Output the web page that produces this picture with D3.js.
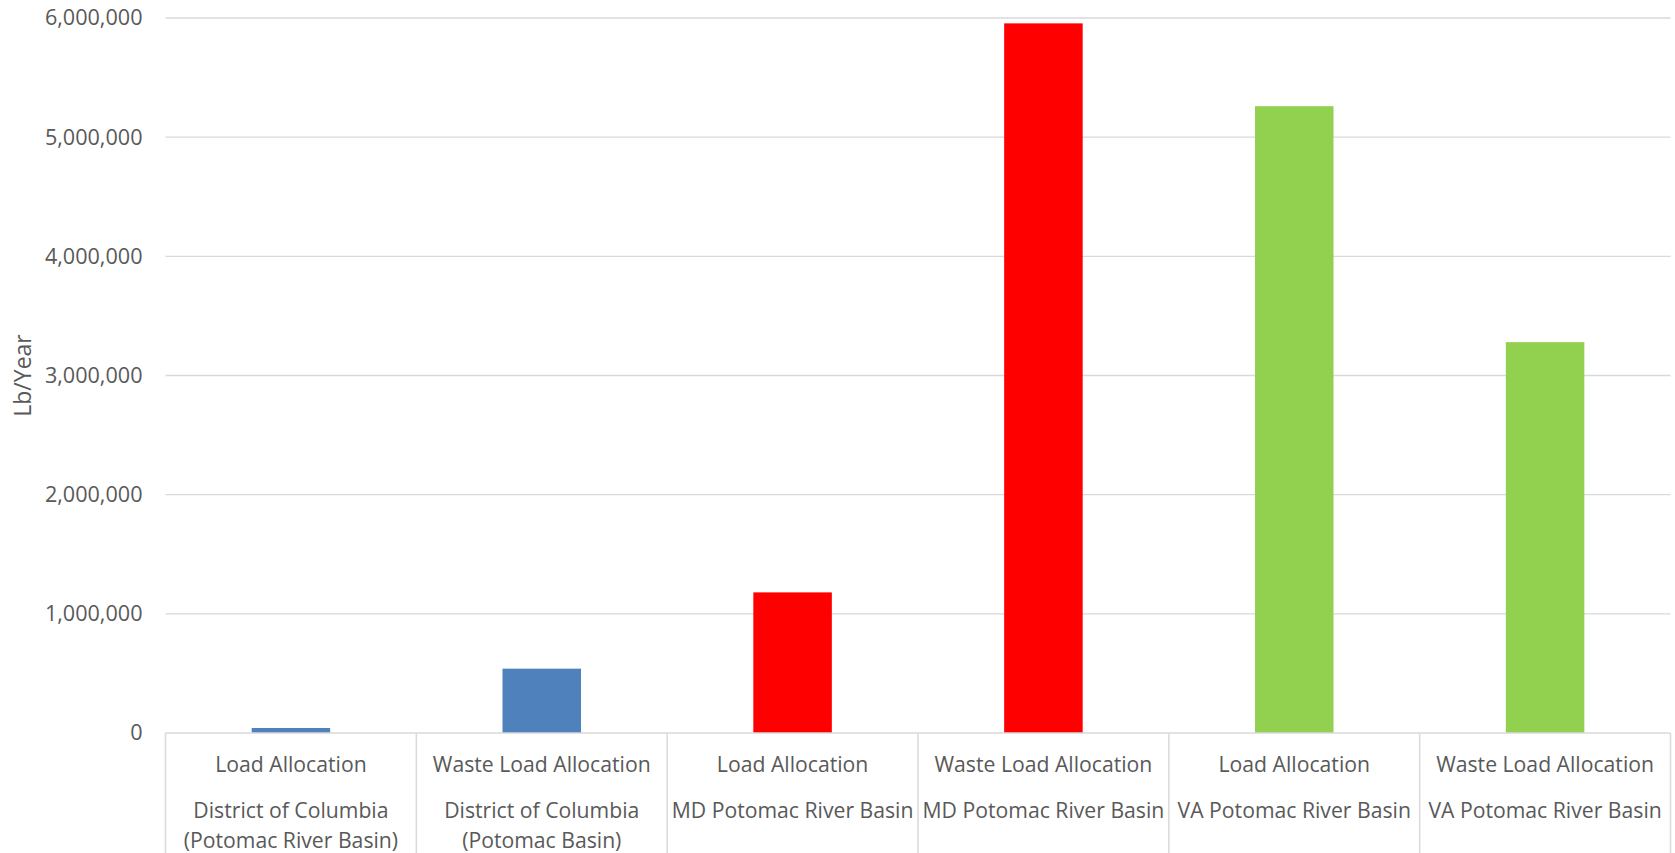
<!DOCTYPE html>
<html>
<head>
<meta charset="utf-8">
<script src="https://cdn.jsdelivr.net/npm/d3@7"></script>
<style>
  html, body { margin: 0; padding: 0; background: #fff; }
  svg text { font-family: "Open Sans", "DejaVu Sans", sans-serif; fill: #595959; }
</style>
</head>
<body>
<svg id="chart" width="1675" height="853"></svg>
<script>
// --- Data ---
const allocTypes = ["Load Allocation", "Waste Load Allocation", "Load Allocation",
  "Waste Load Allocation", "Load Allocation", "Waste Load Allocation"];
const regions = [
  ["District of Columbia", "(Potomac River Basin)"],
  ["District of Columbia", "(Potomac Basin)"],
  ["MD Potomac River Basin"],
  ["MD Potomac River Basin"],
  ["VA Potomac River Basin"],
  ["VA Potomac River Basin"]
];
const loads = [42000, 540000, 1180000, 5955000, 5260000, 3280000];
const barColors = ["#4f81bd", "#4f81bd", "#ff0000", "#ff0000", "#92d050", "#92d050"];
const yTicks = [0, 1000000, 2000000, 3000000, 4000000, 5000000, 6000000];

const svg = d3.select("#chart");
const width = +svg.attr("width");
const height = +svg.attr("height");
const margin = { top: 18, right: 4.5, bottom: 120, left: 165.5 };
const plotBottom = height - margin.bottom;

const ids = loads.map((d, i) => i);

const x = d3.scaleBand()
  .domain(ids)
  .range([margin.left, width - margin.right])
  .paddingInner(0.687)
  .paddingOuter(0.3435);

const y = d3.scaleLinear()
  .domain([0, 6000000])
  .range([plotBottom, margin.top]);

// gridlines
svg.append("g")
  .selectAll("line")
  .data(yTicks.slice(1))
  .enter()
  .append("line")
  .attr("x1", margin.left)
  .attr("x2", width - margin.right)
  .attr("y1", d => y(d))
  .attr("y2", d => y(d))
  .attr("stroke", "#d9d9d9")
  .attr("stroke-width", 1.3);

// y axis labels
const yAxis = d3.axisLeft(y)
  .tickValues(yTicks)
  .tickFormat(d3.format(","))
  .tickSize(0)
  .tickPadding(23);

const yAxisG = svg.append("g")
  .attr("transform", `translate(${margin.left},0)`)
  .call(yAxis);
yAxisG.select(".domain").remove();
yAxisG.selectAll("text")
  .attr("font-size", 21.6)
  .attr("font-family", null)
  .style("fill", "#595959");

// bars
svg.append("g")
  .selectAll("rect")
  .data(ids)
  .enter()
  .append("rect")
  .attr("x", i => x(i))
  .attr("width", x.bandwidth())
  .attr("y", i => y(loads[i]))
  .attr("height", i => plotBottom - y(loads[i]))
  .attr("fill", i => barColors[i]);

// category axis line and dividers
svg.append("line")
  .attr("x1", margin.left)
  .attr("x2", width - margin.right)
  .attr("y1", plotBottom)
  .attr("y2", plotBottom)
  .attr("stroke", "#d9d9d9")
  .attr("stroke-width", 1.5);

const step = x.step();
const edges = ids.map(i => x(i) - (step - x.bandwidth()) / 2).concat([width - margin.right]);

svg.append("g")
  .selectAll("line")
  .data(edges)
  .enter()
  .append("line")
  .attr("x1", d => d)
  .attr("x2", d => d)
  .attr("y1", plotBottom)
  .attr("y2", height)
  .attr("stroke", "#d9d9d9")
  .attr("stroke-width", 1.5);

// category labels
const catG = svg.append("g")
  .selectAll("g")
  .data(ids)
  .enter()
  .append("g")
  .attr("transform", i => `translate(${x(i) + x.bandwidth() / 2},0)`);

catG.append("text")
  .attr("y", 772)
  .attr("text-anchor", "middle")
  .attr("font-size", 21.2)
  .text(i => allocTypes[i]);

catG.each(function(i) {
  d3.select(this).selectAll("text.region")
    .data(regions[i])
    .enter()
    .append("text")
    .attr("class", "region")
    .attr("y", (d, k) => 818 + k * 29.5)
    .attr("text-anchor", "middle")
    .attr("font-size", 21.2)
    .text(d => d);
});

// y axis title
svg.append("text")
  .attr("transform", `translate(31,${(margin.top + plotBottom) / 2}) rotate(-90)`)
  .attr("text-anchor", "middle")
  .attr("font-size", 23)
  .text("Lb/Year");
</script>
</body>
</html>
